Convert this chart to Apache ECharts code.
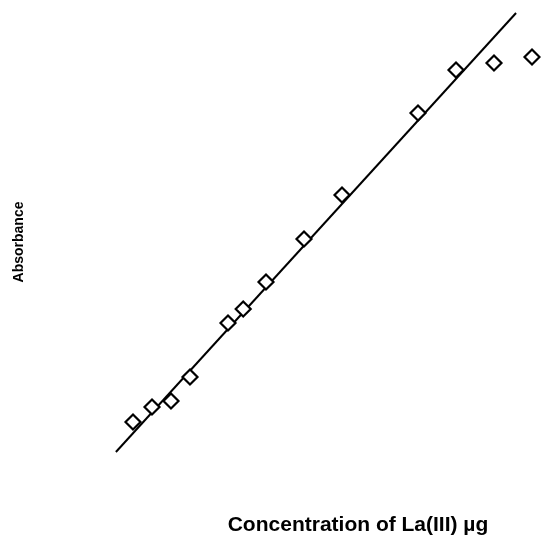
<!DOCTYPE html>
<html>
<head>
<meta charset="utf-8">
<script src="https://cdn.jsdelivr.net/npm/echarts@6/dist/echarts.min.js"></script>
<style>
  html, body { margin: 0; padding: 0; background: #fff; }
  #main { width: 541px; height: 536px; }
</style>
</head>
<body>
<div id="main"></div>
<script>
// concentration (µg) and absorbance
var concentration = [1, 2, 3, 4, 6, 6.8, 8, 10, 12, 16, 18, 20, 22];
var absorbance = [0.038, 0.053, 0.059, 0.083, 0.137, 0.151, 0.178, 0.221, 0.265, 0.347, 0.390, 0.397, 0.403];
// calibration line end points
var fitX = [0.1, 21.16];
var fitY = [0.008, 0.447];

var xTitle = 'Concentration of La(III) µg';
var yTitle = 'Absorbance';

var chart = echarts.init(document.getElementById('main'));

var points = concentration.map(function (c, i) { return [c, absorbance[i]]; });
var fit = fitX.map(function (c, i) { return [c, fitY[i]]; });

var option = {
  backgroundColor: '#fff',
  animation: false,
  grid: { left: 114, right: 9, top: 0, bottom: 76 },
  xAxis: { type: 'value', min: 0, max: 22, show: false },
  yAxis: { type: 'value', min: 0, max: 0.46, show: false },
  graphic: [
    {
      type: 'text',
      x: 19, y: 242,
      rotation: Math.PI / 2,
      style: {
        text: yTitle,
        font: 'bold 14px "Liberation Sans", Arial, sans-serif',
        fill: '#000',
        align: 'center',
        verticalAlign: 'middle'
      }
    },
    {
      type: 'text',
      x: 358, y: 525,
      style: {
        text: xTitle,
        font: 'bold 21px "Liberation Sans", Arial, sans-serif',
        fill: '#000',
        align: 'center',
        verticalAlign: 'middle'
      }
    }
  ],
  series: [
    {
      type: 'line',
      data: fit,
      showSymbol: false,
      symbol: 'none',
      lineStyle: { color: '#000', width: 2 },
      z: 1
    },
    {
      type: 'scatter',
      data: points,
      symbol: 'diamond',
      symbolSize: 15,
      itemStyle: { color: '#fff', borderColor: '#000', borderWidth: 2.2, opacity: 1 },
      z: 2
    }
  ]
};

chart.setOption(option);
</script>
</body>
</html>
